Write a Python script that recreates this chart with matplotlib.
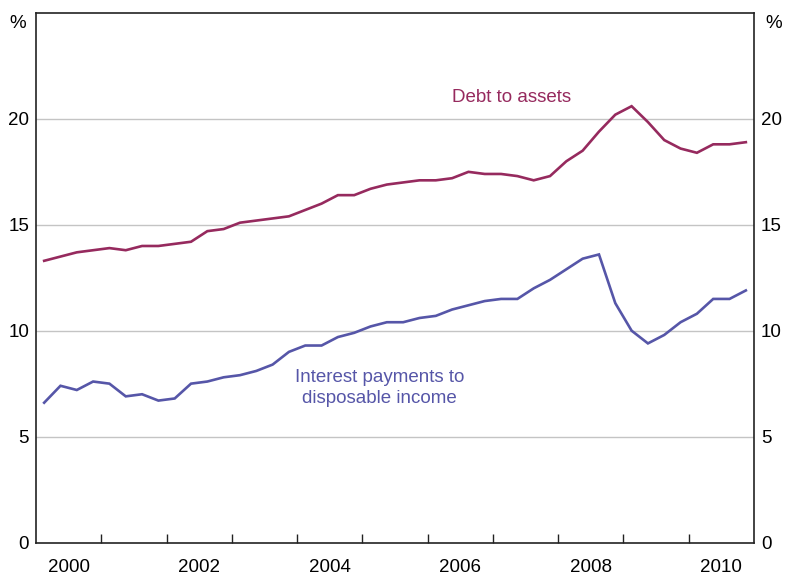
import matplotlib
matplotlib.use("Agg")
import matplotlib.pyplot as plt
import numpy as np

plt.rcParams['font.family'] = ['Liberation Sans', 'DejaVu Sans']

# Quarterly data 2000Q1 .. 2010Q4
start_year = 2000
n_quarters = 44
debt_to_assets = [13.3, 13.5, 13.7, 13.8, 13.9, 13.8, 14.0, 14.0,
                  14.1, 14.2, 14.7, 14.8, 15.1, 15.2, 15.3, 15.4,
                  15.7, 16.0, 16.4, 16.4, 16.7, 16.9, 17.0, 17.1,
                  17.1, 17.2, 17.5, 17.4, 17.4, 17.3, 17.1, 17.3,
                  18.0, 18.5, 19.4, 20.2, 20.6, 19.85, 19.0, 18.6,
                  18.4, 18.8, 18.8, 18.9]
interest_to_income = [6.6, 7.4, 7.2, 7.6, 7.5, 6.9, 7.0, 6.7,
                      6.8, 7.5, 7.6, 7.8, 7.9, 8.1, 8.4, 9.0,
                      9.3, 9.3, 9.7, 9.9, 10.2, 10.4, 10.4, 10.6,
                      10.7, 11.0, 11.2, 11.4, 11.5, 11.5, 12.0, 12.4,
                      12.9, 13.4, 13.6, 11.3, 10.0, 9.4, 9.8, 10.4,
                      10.8, 11.5, 11.5, 11.9]
year_labels = ['2000', '2002', '2004', '2006', '2008', '2010']
y_ticks = [0, 5, 10, 15, 20]

x = start_year + (np.arange(n_quarters) + 0.5) / 4.0

red = '#962A5E'
blue = '#5656A8'
fs = 13.5

fig = plt.figure(figsize=(7.88, 5.77), dpi=100)
ax = fig.add_axes([36/788, (577-542.5)/577, (754-36)/788, (542.5-13)/577])

ax.plot(x, debt_to_assets, color=red, lw=1.9, solid_joinstyle='miter')
ax.plot(x, interest_to_income, color=blue, lw=1.9, solid_joinstyle='miter')

ax.set_xlim(2000, 2011)
ax.set_ylim(0, 25)

for v in y_ticks[1:]:
    ax.axhline(v, color='#C4C4C4', lw=1.0, zorder=0)

ax.set_yticks(y_ticks)
ax.tick_params(axis='y', length=0, labelsize=fs, pad=5,
               labelleft=True, labelright=True, left=False, right=False)

ax.set_xticks(np.arange(2001, 2011), minor=False)
ax.set_xticklabels([])
ax.tick_params(axis='x', which='major', direction='in', length=6.5, width=1.0, color='#222222')
ax.set_xticks([int(y) + 0.5 for y in year_labels], minor=True)
ax.set_xticklabels(year_labels, minor=True)
ax.tick_params(axis='x', which='minor', length=0, labelsize=fs, pad=12)

for s in ax.spines.values():
    s.set_color('#222222')
    s.set_linewidth(1.2)

fig.text(18/788, 1 - 24/577, '%', ha='center', va='center', fontsize=fs)
fig.text(774/788, 1 - 24/577, '%', ha='center', va='center', fontsize=fs)

ax.text(2007.29, 21.0, 'Debt to assets', color=red, fontsize=fs, ha='center', va='center')
ax.text(2005.26, 7.29, 'Interest payments to\ndisposable income', color=blue, fontsize=fs,
        ha='center', va='center', linespacing=1.25)

fig.savefig('out.png', dpi=100)
